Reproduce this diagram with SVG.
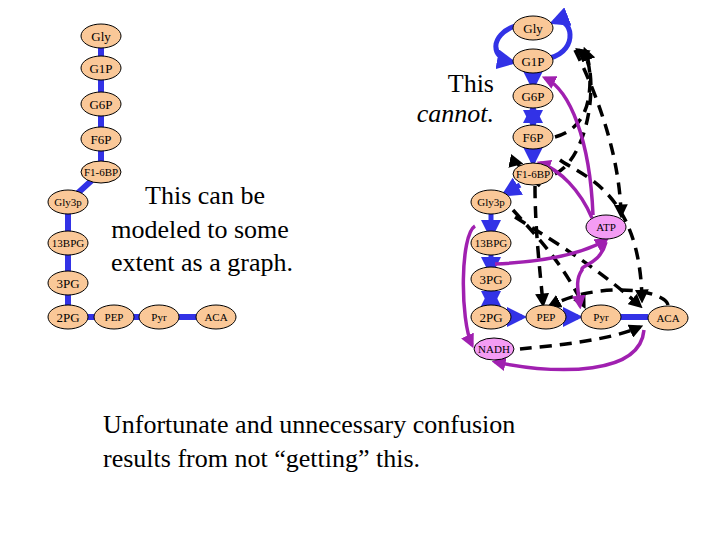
<svg xmlns="http://www.w3.org/2000/svg" width="720" height="540" viewBox="0 0 720 540">
<style>
.n{fill:#fac898;stroke:#000;stroke-width:1}
.p{fill:#f49cf4;stroke:#000;stroke-width:1}
.t{font-family:"Liberation Serif",serif;font-size:13px;text-anchor:middle;fill:#000}
.s{font-size:11px}
.b{stroke:#3232e6;stroke-width:6;fill:none}
.ba{stroke:#3232e6;stroke-width:5;fill:none;marker-end:url(#ab)}
.d{stroke:#000;stroke-width:3.5;fill:none;stroke-dasharray:12 8;marker-end:url(#ak)}
.m{stroke:#a020b0;stroke-width:3.5;fill:none;marker-end:url(#am)}
.big{font-family:"Liberation Serif",serif;font-size:26px;fill:#000}
</style>
<defs>
<marker id="ab" markerWidth="4" markerHeight="4" refX="3" refY="2" orient="auto"><path d="M0,0L4,2L0,4z" fill="#3232e6"/></marker>
<marker id="ak" markerWidth="4" markerHeight="4" refX="3" refY="2" orient="auto"><path d="M0,0L4,2L0,4z" fill="#000"/></marker>
<marker id="am" markerWidth="4" markerHeight="4" refX="3" refY="2" orient="auto"><path d="M0,0L4,2L0,4z" fill="#a020b0"/></marker>
</defs>
<rect width="720" height="540" fill="#fff"/>
<g id="connectors">
<path class="b" d="M101,36V172L68,202V317H216"/>
<path class="ba" d="M515,26C490,35 490,58 512,62"/>
<path class="ba" d="M550,58C580,50 572,15 554,22"/>
<path class="ba" d="M533,73V86"/>
<path class="ba" d="M533,108V125"/>
<path class="ba" d="M533,125V108"/>
<path class="ba" d="M533,149V162"/>
<path class="ba" d="M520,185L505,194"/>
<path class="ba" d="M491,214V235"/>
<path class="ba" d="M491,255V272"/>
<path class="ba" d="M491,291V306"/>
<path class="ba" d="M491,306V291"/>
<path class="ba" d="M511,317H522"/>
<path class="ba" d="M568,317H578"/>
<path class="b" d="M620,317H648"/>
<path class="d" d="M555,137C580,130 590,110 590,80C590,60 585,55 578,50"/>
<path class="d" d="M555,174C585,160 600,90 585,50"/>
<path class="d" d="M575,50C600,100 620,160 621,215"/>
<path class="d" d="M560,160C580,175 640,190 642,300"/>
<path class="d" d="M540,186C520,170 515,162 520,163"/>
<path class="d" d="M535,186C535,230 540,270 543,304"/>
<path class="d" d="M513,210C540,240 560,260 584,306"/>
<path class="d" d="M515,217C560,245 600,270 640,306"/>
<path class="d" d="M520,349C560,345 610,340 640,327"/>
<path class="d" d="M668,305C665,290 600,280 550,306"/>
<path class="m" d="M593,215C590,140 570,90 545,78"/>
<path class="m" d="M592,218C580,190 560,170 540,163"/>
<path class="m" d="M495,264C540,262 580,255 606,240"/>
<path class="m" d="M606,242C600,265 580,265 582,270C575,280 578,290 580,306"/>
<path class="m" d="M475,226C460,235 460,320 472,345"/>
<path class="m" d="M644,330C640,375 560,375 495,362"/>
</g>
<g id="left">
<g id="l-gly"><ellipse class="n" cx="101" cy="36" rx="20" ry="12"/><text class="t" x="101" y="41">Gly</text></g>
<g id="l-g1p"><ellipse class="n" cx="101" cy="68" rx="20" ry="12"/><text class="t" x="101" y="73">G1P</text></g>
<g id="l-g6p"><ellipse class="n" cx="101" cy="104" rx="20" ry="12"/><text class="t" x="101" y="109">G6P</text></g>
<g id="l-f6p"><ellipse class="n" cx="101" cy="139" rx="20" ry="12"/><text class="t" x="101" y="144">F6P</text></g>
<g id="l-f16bp"><ellipse class="n" cx="101" cy="172" rx="20" ry="11"/><text class="t s" x="101" y="176">F1-6BP</text></g>
<g id="l-gly3p"><ellipse class="n" cx="68" cy="202" rx="20" ry="12"/><text class="t s" x="68" y="206">Gly3p</text></g>
<g id="l-13bpg"><ellipse class="n" cx="68" cy="243" rx="20" ry="12"/><text class="t s" x="68" y="247">13BPG</text></g>
<g id="l-3pg"><ellipse class="n" cx="68" cy="283" rx="20" ry="12"/><text class="t" x="68" y="288">3PG</text></g>
<g id="l-2pg"><ellipse class="n" cx="68" cy="317" rx="20" ry="12"/><text class="t" x="68" y="322">2PG</text></g>
<g id="l-pep"><ellipse class="n" cx="114" cy="317" rx="20" ry="12"/><text class="t s" x="114" y="321">PEP</text></g>
<g id="l-pyr"><ellipse class="n" cx="159" cy="317" rx="20" ry="12"/><text class="t s" x="159" y="321">Pyr</text></g>
<g id="l-aca"><ellipse class="n" cx="216" cy="317" rx="20" ry="12"/><text class="t s" x="216" y="321">ACA</text></g>
</g>
<g id="right">
<g id="r-gly"><ellipse class="n" cx="533" cy="28" rx="20" ry="12"/><text class="t" x="533" y="33">Gly</text></g>
<g id="r-g1p"><ellipse class="n" cx="533" cy="61" rx="20" ry="12"/><text class="t" x="533" y="66">G1P</text></g>
<g id="r-g6p"><ellipse class="n" cx="533" cy="96" rx="20" ry="12"/><text class="t" x="533" y="101">G6P</text></g>
<g id="r-f6p"><ellipse class="n" cx="533" cy="137" rx="20" ry="12"/><text class="t" x="533" y="142">F6P</text></g>
<g id="r-f16bp"><ellipse class="n" cx="533" cy="174" rx="20" ry="11"/><text class="t s" x="533" y="178">F1-6BP</text></g>
<g id="r-gly3p"><ellipse class="n" cx="491" cy="202" rx="20" ry="12"/><text class="t s" x="491" y="206">Gly3p</text></g>
<g id="r-13bpg"><ellipse class="n" cx="491" cy="243" rx="20" ry="12"/><text class="t s" x="491" y="247">13BPG</text></g>
<g id="r-3pg"><ellipse class="n" cx="491" cy="279" rx="20" ry="12"/><text class="t" x="491" y="284">3PG</text></g>
<g id="r-2pg"><ellipse class="n" cx="491" cy="317" rx="20" ry="12"/><text class="t" x="491" y="322">2PG</text></g>
<g id="r-pep"><ellipse class="n" cx="546" cy="317" rx="20" ry="12"/><text class="t s" x="546" y="321">PEP</text></g>
<g id="r-pyr"><ellipse class="n" cx="601" cy="317" rx="20" ry="12"/><text class="t s" x="601" y="321">Pyr</text></g>
<g id="r-aca"><ellipse class="n" cx="668" cy="318" rx="20" ry="12"/><text class="t s" x="668" y="322">ACA</text></g>
<g id="r-atp"><ellipse class="p" cx="606" cy="227" rx="20" ry="12"/><text class="t s" x="606" y="231">ATP</text></g>
<g id="r-nadh"><ellipse class="p" cx="494" cy="349" rx="20" ry="11"/><text class="t s" x="494" y="353">NADH</text></g>
</g>
<text class="big" x="494" y="92" text-anchor="end">This</text>
<text class="big" x="494" y="122" text-anchor="end" font-style="italic">cannot.</text>
<text class="big" x="205" y="204" text-anchor="middle">This can be</text>
<text class="big" x="200" y="238" text-anchor="middle">modeled to some</text>
<text class="big" x="202" y="271" text-anchor="middle">extent as a graph.</text>
<text class="big" x="103" y="433">Unfortunate and unnecessary confusion</text>
<text class="big" x="103" y="467">results from not “getting” this.</text>
</svg>
